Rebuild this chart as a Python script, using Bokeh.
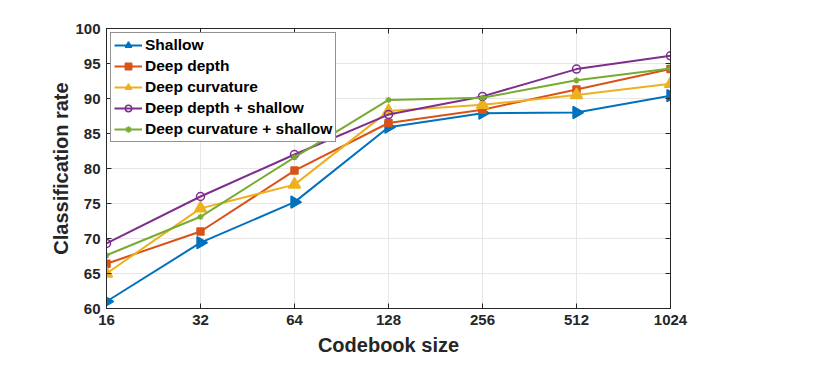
import math
from bokeh.plotting import figure
from bokeh.models import (FixedTicker, LinearAxis, LogAxis, NumeralTickFormatter, Range1d,
                          CustomJSTickFormatter)
from bokeh.embed import file_html
from bokeh.resources import INLINE

codebook = [16, 32, 64, 128, 256, 512, 1024]
shallow = [61.0, 69.4, 75.2, 85.9, 87.9, 88.0, 90.4]
deep_depth = [66.4, 71.0, 79.7, 86.5, 88.4, 91.3, 94.2]
deep_curv = [65.0, 74.3, 77.7, 88.2, 89.1, 90.5, 92.1]
dd_shallow = [69.3, 76.0, 82.0, 87.7, 90.3, 94.2, 96.1]
dc_shallow = [67.6, 73.1, 81.6, 89.8, 90.1, 92.6, 94.3]
y_ticks = [60, 65, 70, 75, 80, 85, 90, 95, 100]

FONT = "Liberation Sans"
AX = "#262626"

p = figure(x_axis_type="log", output_backend="svg", toolbar_location=None,
           frame_width=564, frame_height=280,
           x_range=Range1d(16, 1024), y_range=Range1d(60, 100),
           min_border_left=106, min_border_top=28, min_border_right=20, min_border_bottom=10,
           background_fill_color="white", border_fill_color="white")
p.outline_line_color = AX
p.outline_line_width = 1

series = [
    ("Shallow", shallow, "#0072BD", "triangle", -math.pi / 2, 12, True),
    ("Deep depth", deep_depth, "#D95319", "square", 0, 7, True),
    ("Deep curvature", deep_curv, "#EDB120", "triangle", 0, 12, True),
    ("Deep depth + shallow", dd_shallow, "#7E2F8E", "circle", 0, 8, False),
    ("Deep curvature + shallow", dc_shallow, "#77AC30", "asterisk", 0, 6, False),
]
for name, ys, col, mk, ang, sz, filled in series:
    p.line(codebook, ys, line_color=col, line_width=2, legend_label=name)
    p.scatter(codebook, ys, marker=mk, angle=ang, size=sz, line_color=col, line_width=1.5,
              fill_color=col if filled else None, legend_label=name)

xt = FixedTicker(ticks=codebook)
yt = FixedTicker(ticks=y_ticks)
xax = p.xaxis[0]
yax = p.yaxis[0]
xax.ticker = xt
xax.formatter = NumeralTickFormatter(format="0")
yax.ticker = yt

blank = CustomJSTickFormatter(code="return '';")
top = LogAxis(ticker=xt, formatter=blank, axis_label=None)
right = LinearAxis(ticker=yt, formatter=blank, axis_label=None)
p.add_layout(top, "above")
p.add_layout(right, "right")

for ax in [xax, yax, top, right]:
    ax.axis_line_color = AX
    ax.major_tick_line_color = AX
    ax.major_tick_in = 5
    ax.major_tick_out = 0
    ax.minor_tick_line_color = None
    ax.major_label_text_font = FONT
    ax.major_label_text_font_style = "bold"
    ax.major_label_text_color = AX
    ax.major_label_text_font_size = "15px"
for ax in [top, right]:
    ax.major_label_standoff = 0

xax.major_label_standoff = 6
yax.major_label_standoff = 6

xax.axis_label = "Codebook size"
yax.axis_label = "Classification rate"
for ax in [xax, yax]:
    ax.axis_label_text_font = FONT
    ax.axis_label_text_font_style = "bold"
    ax.axis_label_text_font_size = "20px"
    ax.axis_label_text_color = AX
xax.axis_label_standoff = 6
yax.axis_label_standoff = 0

p.xgrid.ticker = xt
p.ygrid.ticker = yt
p.xgrid.grid_line_color = "#e6e6e6"
p.ygrid.grid_line_color = "#e6e6e6"

lg = p.legend[0]
lg.location = "top_left"
lg.margin = 4
lg.padding = 3
lg.spacing = 3
lg.glyph_width = 28
lg.glyph_height = 16
lg.label_height = 16
lg.label_standoff = 3
lg.label_text_font = FONT
lg.label_text_font_style = "bold"
lg.label_text_font_size = "15.5px"
lg.label_text_color = "black"
lg.border_line_color = AX
lg.border_line_width = 1
lg.background_fill_color = "white"
lg.background_fill_alpha = 1

open("out.html", "w").write(file_html(p, INLINE))
